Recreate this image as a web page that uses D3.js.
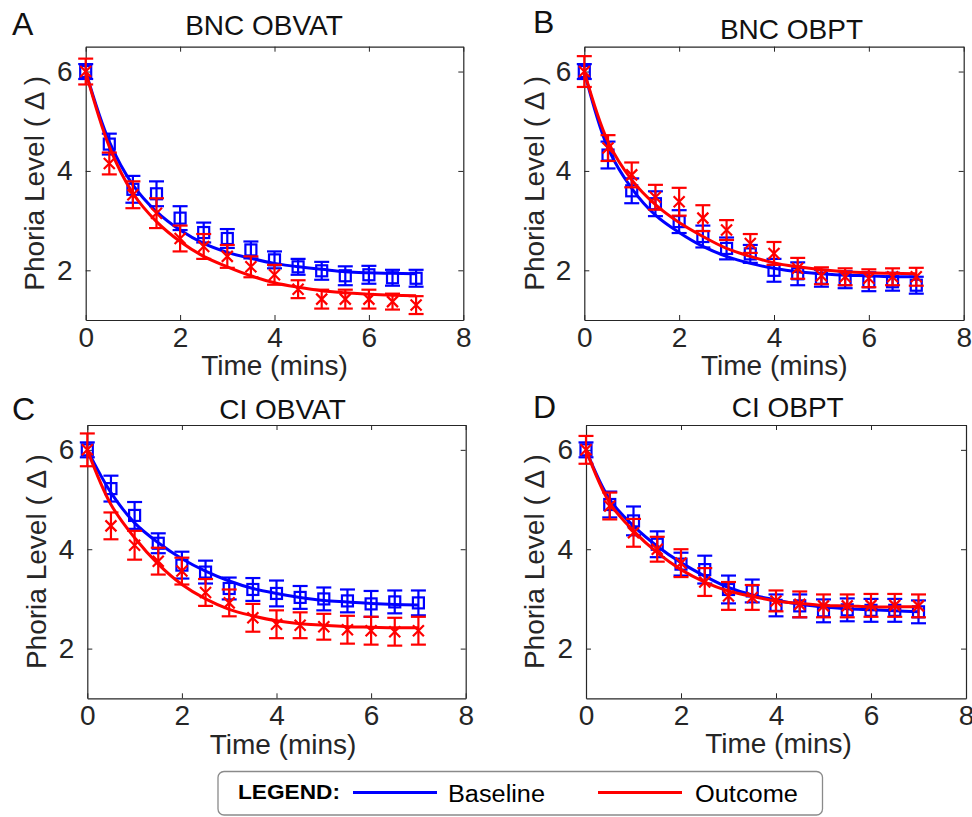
<!DOCTYPE html>
<html>
<head>
<meta charset="utf-8">
<script src="https://cdn.jsdelivr.net/npm/d3@7"></script>
<style>
  body { margin: 0; background: #fff; }
  svg text { font-family: "Liberation Sans", Arial, sans-serif; fill: #262626; }
</style>
</head>
<body>
<div id="chart"></div>
<script>
// time points (mins)
const times = [0, 0.5, 1, 1.5, 2, 2.5, 3, 3.5, 4, 4.5, 5, 5.5, 6, 6.5, 7];
const xTicks = [0, 2, 4, 6, 8];
const yTicks = [2, 4, 6];

// A: BNC OBVAT
const aBaseMean = [6.0, 4.54, 3.63, 3.54, 3.05, 2.76, 2.64, 2.41, 2.21, 2.07, 1.99, 1.89, 1.91, 1.85, 1.84];
const aBaseErr  = [0.15, 0.21, 0.27, 0.25, 0.24, 0.2, 0.19, 0.17, 0.17, 0.16, 0.18, 0.19, 0.18, 0.16, 0.17];
const aOutMean  = [6.0, 4.15, 3.52, 3.15, 2.64, 2.48, 2.28, 2.07, 1.91, 1.62, 1.42, 1.42, 1.42, 1.37, 1.30];
const aOutErr   = [0.26, 0.22, 0.27, 0.3, 0.26, 0.25, 0.23, 0.21, 0.2, 0.18, 0.19, 0.19, 0.19, 0.16, 0.18];
const aBaseFit  = [6.0, 4.59, 3.72, 3.18, 2.81, 2.54, 2.36, 2.24, 2.14, 2.07, 2.02, 1.97, 1.95, 1.94, 1.93];
const aOutFit   = [6.0, 4.49, 3.55, 2.98, 2.58, 2.28, 2.07, 1.89, 1.75, 1.66, 1.59, 1.55, 1.52, 1.50, 1.49];

// B: BNC OBPT
const bBaseMean = [6.0, 4.32, 3.6, 3.34, 2.98, 2.68, 2.44, 2.33, 2.0, 1.93, 1.84, 1.81, 1.77, 1.77, 1.70];
const bBaseErr  = [0.15, 0.27, 0.25, 0.25, 0.23, 0.22, 0.22, 0.18, 0.23, 0.23, 0.17, 0.17, 0.19, 0.18, 0.17];
const bOutMean  = [6.0, 4.46, 3.92, 3.47, 3.38, 3.05, 2.81, 2.54, 2.34, 2.04, 1.89, 1.87, 1.84, 1.87, 1.87];
const bOutErr   = [0.31, 0.26, 0.25, 0.25, 0.28, 0.26, 0.2, 0.19, 0.23, 0.21, 0.17, 0.17, 0.18, 0.17, 0.18];
const bBaseFit  = [6.0, 4.46, 3.65, 3.11, 2.76, 2.48, 2.28, 2.14, 2.04, 1.97, 1.93, 1.90, 1.89, 1.87, 1.87];
const bOutFit   = [6.0, 4.59, 3.82, 3.32, 2.96, 2.68, 2.44, 2.28, 2.15, 2.07, 2.01, 1.97, 1.95, 1.94, 1.93];

// C: CI OBVAT
const cBaseMean = [6.0, 5.22, 4.68, 4.12, 3.68, 3.54, 3.21, 3.19, 3.11, 3.03, 3.0, 2.96, 2.9, 2.94, 2.92];
const cBaseErr  = [0.15, 0.26, 0.27, 0.2, 0.27, 0.23, 0.22, 0.23, 0.26, 0.23, 0.23, 0.23, 0.26, 0.23, 0.25];
const cOutMean  = [6.0, 4.47, 4.08, 3.76, 3.56, 3.13, 2.92, 2.62, 2.49, 2.47, 2.44, 2.38, 2.36, 2.34, 2.36];
const cOutErr   = [0.33, 0.27, 0.29, 0.27, 0.27, 0.27, 0.27, 0.28, 0.28, 0.26, 0.26, 0.28, 0.28, 0.28, 0.28];
const cBaseFit  = [6.0, 5.14, 4.53, 4.13, 3.81, 3.56, 3.36, 3.21, 3.11, 3.03, 2.97, 2.94, 2.91, 2.89, 2.88];
const cOutFit   = [6.0, 4.9, 4.23, 3.7, 3.29, 3.0, 2.79, 2.66, 2.56, 2.5, 2.47, 2.44, 2.43, 2.42, 2.42];

// D: CI OBPT
const dBaseMean = [6.0, 4.9, 4.57, 4.1, 3.7, 3.59, 3.19, 3.16, 2.87, 2.86, 2.76, 2.78, 2.77, 2.77, 2.74];
const dBaseErr  = [0.15, 0.26, 0.29, 0.26, 0.23, 0.28, 0.28, 0.23, 0.22, 0.23, 0.23, 0.23, 0.23, 0.23, 0.23];
const dOutMean  = [6.0, 4.87, 4.33, 4.0, 3.72, 3.34, 3.06, 3.03, 2.96, 2.89, 2.86, 2.86, 2.87, 2.87, 2.86];
const dOutErr   = [0.28, 0.27, 0.28, 0.25, 0.28, 0.28, 0.28, 0.25, 0.21, 0.26, 0.23, 0.23, 0.23, 0.23, 0.23];
const dBaseFit  = [6.0, 5.0, 4.47, 4.06, 3.73, 3.46, 3.23, 3.08, 2.98, 2.89, 2.84, 2.80, 2.78, 2.76, 2.74];
const dOutFit   = [6.0, 4.93, 4.37, 3.93, 3.59, 3.34, 3.16, 3.05, 2.96, 2.91, 2.87, 2.86, 2.84, 2.84, 2.84];

const BLUE = '#0000ff', RED = '#ff0000', AXIS = '#262626';

const panels = [
  { letter: 'A', title: 'BNC OBVAT', box: [85.7, 463.3, 46.7, 320], titleAt: [264, 35], letterAt: [12, 35], yLabX: 44, xLabAt: [274.5, 375],
    base: [aBaseMean, aBaseErr, aBaseFit], out: [aOutMean, aOutErr, aOutFit] },
  { letter: 'B', title: 'BNC OBPT', box: [584.3, 963.7, 46.7, 320], titleAt: [791.5, 39], letterAt: [533, 33], yLabX: 543.5, xLabAt: [774.3, 375],
    base: [bBaseMean, bBaseErr, bBaseFit], out: [bOutMean, bOutErr, bOutFit] },
  { letter: 'C', title: 'CI OBVAT', box: [87.3, 465.7, 425, 698.3], titleAt: [282.5, 419], letterAt: [12, 420], yLabX: 46, xLabAt: [283, 754],
    base: [cBaseMean, cBaseErr, cBaseFit], out: [cOutMean, cOutErr, cOutFit] },
  { letter: 'D', title: 'CI OBPT', box: [586, 966, 425, 698.3], titleAt: [787.7, 417], letterAt: [533, 418], yLabX: 544, xLabAt: [778.5, 753],
    base: [dBaseMean, dBaseErr, dBaseFit], out: [dOutMean, dOutErr, dOutFit] },
];

const svg = d3.select('#chart').append('svg')
  .attr('width', 972).attr('height', 817);

panels.forEach(p => {
  const [x0, x1, y0, y1] = p.box;
  const x = d3.scaleLinear().domain([0, 8]).range([x0, x1]);
  const y = d3.scaleLinear().domain([1, 6.5]).range([y1, y0]);
  const g = svg.append('g');

  g.append('rect')
    .attr('x', x0).attr('y', y0).attr('width', x1 - x0).attr('height', y1 - y0)
    .attr('fill', '#fff');

  // axes, ticks pointing inward on all four sides
  const styleAxis = sel => {
    sel.attr('font-size', 28).attr('font-family', '"Liberation Sans", Arial, sans-serif');
    sel.selectAll('path.domain').attr('stroke', AXIS).attr('stroke-width', 1.2);
    sel.selectAll('.tick line').attr('stroke', AXIS).attr('stroke-width', 1);
    sel.selectAll('.tick text').style('font-size', '28px').style('fill', AXIS);
  };
  const fmt = d3.format('d');
  g.append('g').attr('transform', `translate(0,${y1})`)
    .call(d3.axisBottom(x).tickValues(xTicks).tickFormat(fmt).tickSizeInner(-5).tickSizeOuter(0).tickPadding(7))
    .call(styleAxis);
  g.append('g').attr('transform', `translate(0,${y0})`)
    .call(d3.axisTop(x).tickValues(xTicks).tickSizeInner(-5).tickSizeOuter(0).tickFormat(''))
    .call(styleAxis);
  g.append('g').attr('transform', `translate(${x0},0)`)
    .call(d3.axisLeft(y).tickValues(yTicks).tickFormat(fmt).tickSizeInner(-5).tickSizeOuter(0).tickPadding(13))
    .call(styleAxis);
  g.append('g').attr('transform', `translate(${x1},0)`)
    .call(d3.axisRight(y).tickValues(yTicks).tickSizeInner(-5).tickSizeOuter(0).tickFormat(''))
    .call(styleAxis);

  const line = d3.line()
    .x((d, i) => x(times[i]))
    .y(d => y(d))
    .curve(d3.curveCatmullRom.alpha(0.5));

  const drawSeries = (series, color, marker) => {
    const [mean, err, fit] = series;
    g.append('path').datum(fit)
      .attr('d', line).attr('fill', 'none')
      .attr('stroke', color).attr('stroke-width', 3);

    const pts = g.append('g').selectAll('g')
      .data(mean.map((m, i) => ({ t: times[i], m, e: err[i] })))
      .join('g')
      .attr('stroke', color).attr('stroke-width', 2.2).attr('fill', 'none');
    pts.append('line')
      .attr('x1', d => x(d.t)).attr('x2', d => x(d.t))
      .attr('y1', d => y(d.m + d.e)).attr('y2', d => y(d.m - d.e));
    [1, -1].forEach(s => {
      pts.append('line')
        .attr('x1', d => x(d.t) - 7.5).attr('x2', d => x(d.t) + 7.5)
        .attr('y1', d => y(d.m + s * d.e)).attr('y2', d => y(d.m + s * d.e));
    });
    if (marker === 'square') {
      pts.append('rect')
        .attr('x', d => x(d.t) - 5.5).attr('y', d => y(d.m) - 5.5)
        .attr('width', 11).attr('height', 11);
    } else {
      pts.append('path')
        .attr('d', d => {
          const cx = x(d.t), cy = y(d.m), r = 5.5;
          return `M${cx - r},${cy - r}L${cx + r},${cy + r}M${cx - r},${cy + r}L${cx + r},${cy - r}`;
        });
    }
  };
  drawSeries(p.base, BLUE, 'square');
  drawSeries(p.out, RED, 'cross');

  g.append('text')
    .attr('x', p.titleAt[0]).attr('y', p.titleAt[1])
    .attr('text-anchor', 'middle').attr('font-size', 28).style('fill', '#111')
    .text(p.title);
  g.append('text')
    .attr('x', p.letterAt[0]).attr('y', p.letterAt[1])
    .attr('font-size', 32).style('fill', '#111')
    .text(p.letter);
  g.append('text')
    .attr('transform', `translate(${p.yLabX},${(y0 + y1) / 2}) rotate(-90)`)
    .attr('text-anchor', 'middle').attr('font-size', 28)
    .text('Phoria Level ( Δ )');
  g.append('text')
    .attr('x', p.xLabAt[0]).attr('y', p.xLabAt[1])
    .attr('text-anchor', 'middle').attr('font-size', 28)
    .text('Time (mins)');
});

// legend
const lg = svg.append('g');
lg.append('rect')
  .attr('x', 218).attr('y', 771.5).attr('width', 604.5).attr('height', 43.5).attr('rx', 6)
  .attr('fill', '#fff').attr('stroke', '#8a8a8a').attr('stroke-width', 1.3);
lg.append('text')
  .attr('x', 238).attr('y', 799).attr('font-size', 21).attr('font-weight', 'bold')
  .attr('textLength', 102).attr('lengthAdjust', 'spacingAndGlyphs')
  .style('fill', '#000')
  .text('LEGEND:');
const legendItems = [
  { label: 'Baseline', color: BLUE, lx: 353, tx: 448 },
  { label: 'Outcome', color: RED, lx: 598, tx: 695 },
];
legendItems.forEach(d => {
  lg.append('line')
    .attr('x1', d.lx).attr('x2', d.lx + 84).attr('y1', 792.5).attr('y2', 792.5)
    .attr('stroke', d.color).attr('stroke-width', 3);
  lg.append('text')
    .attr('x', d.tx).attr('y', 801.5).attr('font-size', 23)
    .attr('textLength', d.label === 'Baseline' ? 97 : 103).attr('lengthAdjust', 'spacingAndGlyphs')
    .style('fill', '#000')
    .text(d.label);
});
</script>
</body>
</html>
